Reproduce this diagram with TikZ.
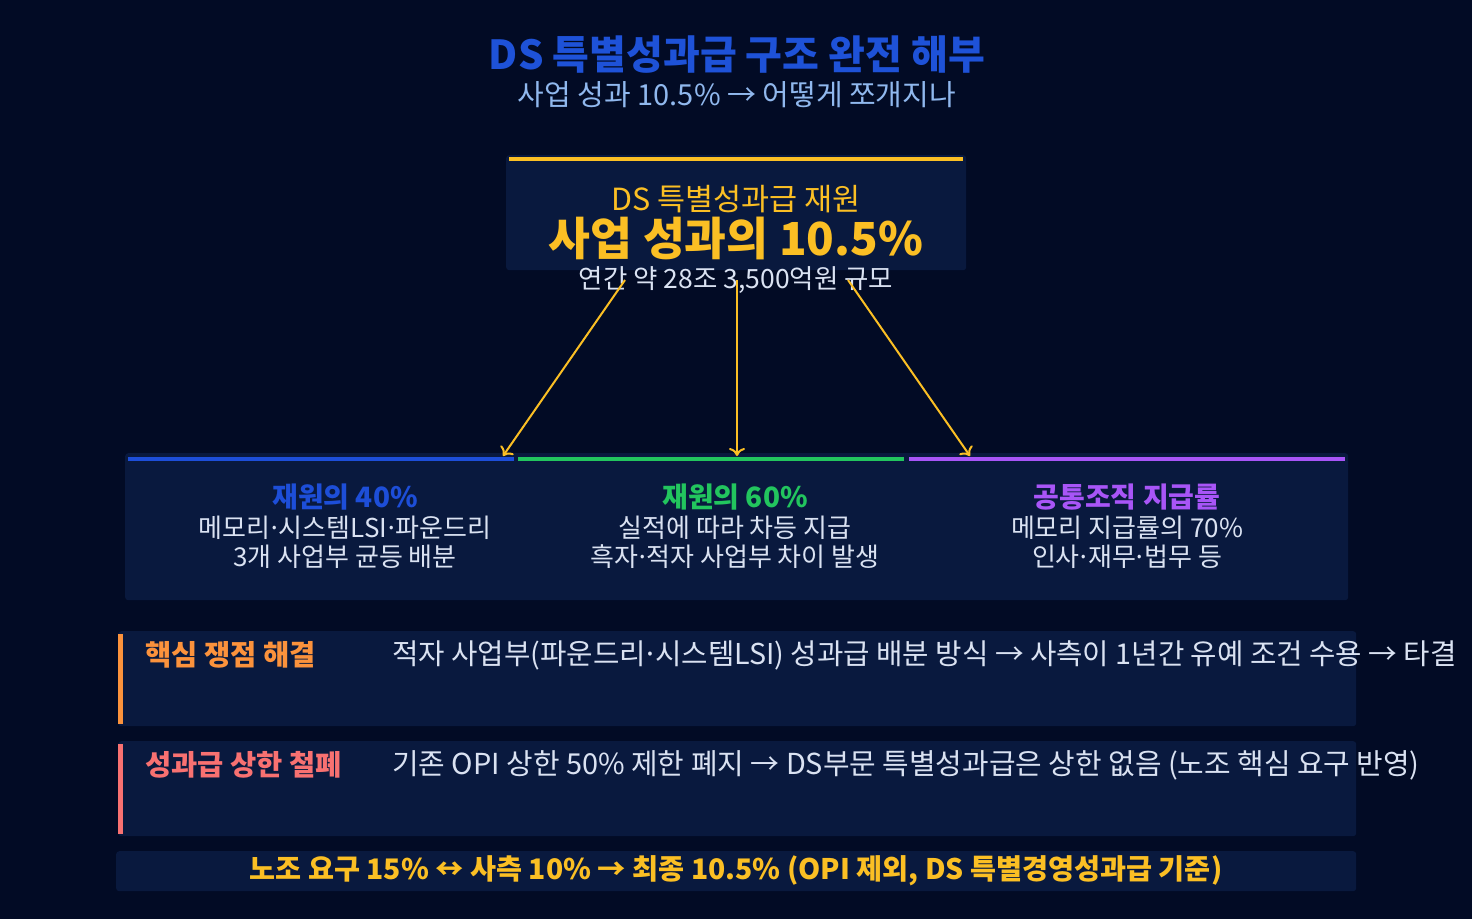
\documentclass[tikz,border=0pt]{standalone}
\usepackage{fontspec}
\setmainfont{Noto Sans CJK KR}
\usetikzlibrary{arrows.meta}

\definecolor{bgnavy}{RGB}{2,11,37}
\definecolor{boxnavy}{RGB}{9,25,62}
\definecolor{titleblue}{RGB}{30,82,216}
\definecolor{subblue}{RGB}{144,184,238}
\definecolor{amber}{RGB}{251,191,36}
\definecolor{bodygray}{RGB}{218,226,242}
\definecolor{barblue}{RGB}{29,78,216}
\definecolor{bargreen}{RGB}{34,197,94}
\definecolor{barpurple}{RGB}{168,85,247}
\definecolor{issueorange}{RGB}{251,146,60}
\definecolor{capred}{RGB}{248,113,113}

\newcommand{\setfs}[1]{\fontsize{#1}{#1}\selectfont}
\newcommand{\mdot}{\kern-.12em·\kern-.12em}

\tikzset{
  panel/.style={fill=boxnavy, rounded corners=3pt, inner sep=0pt, anchor=north west},
  txt/.style={inner sep=0pt, text=bodygray, font=\setfs{26}},
  head/.style={inner sep=0pt, font=\bfseries\setfs{28}},
  flow/.style={draw=amber, line width=2pt, -{To[length=8pt,width=16pt]}}
}

\begin{document}
\begin{tikzpicture}[x=1pt,y=-1pt]
\fill[bgnavy] (0,0) rectangle (1472,919);
\useasboundingbox (0,0) rectangle (1472,919);

\node[inner sep=0pt, text=titleblue, font=\bfseries\setfs{40}] (title) at (737,55) {DS 특별성과급 구조 완전 해부};
\node[inner sep=0pt, text=subblue, font=\setfs{29}] (subtitle) at (737,95) {사업 성과 10.5\% → 어떻게 쪼개지나};

\node[panel, minimum width=460pt, minimum height=115pt] (source) at (506,155) {};
\fill[amber] (509,157) rectangle (963,161);
\node[inner sep=0pt, text=amber, font=\setfs{30.5}] (sourcehead) at (736,199) {DS 특별성과급 재원};
\node[inner sep=0pt, text=amber, font=\bfseries\setfs{45.5}] (sourcerate) at (736,238) {사업 성과의 10.5\%};
\node[txt, font=\setfs{26.5}] (sourcesize) at (736,280) {연간 약 28조 3,500억원 규모};

\node[panel, minimum width=1223pt, minimum height=147pt] (split) at (125,453) {};
\fill[barblue] (128,457) rectangle (514,461);
\fill[bargreen] (518,457) rectangle (904,461);
\fill[barpurple] (909,457) rectangle (1345,461);

\node[head, text=barblue] (memhead) at (345,497) {재원의 40\%};
\node[txt] (memline1) at (345,528) {메모리\mdot 시스템LSI\mdot 파운드리};
\node[txt] (memline2) at (345,557) {3개 사업부 균등 배분};

\node[head, text=bargreen] (perfhead) at (735,497) {재원의 60\%};
\node[txt] (perfline1) at (735,528) {실적에 따라 차등 지급};
\node[txt] (perfline2) at (735,557) {흑자\mdot 적자 사업부 차이 발생};

\node[head, text=barpurple] (commonhead) at (1127,497) {공통조직 지급률};
\node[txt] (commonline1) at (1127,528) {메모리 지급률의 70\%};
\node[txt] (commonline2) at (1127,557) {인사\mdot 재무\mdot 법무 등};

\coordinate (from1) at (625,280);
\coordinate (from2) at (737,280);
\coordinate (from3) at (848,280);
\coordinate (to1) at (503,456);
\coordinate (to2) at (737,456);
\coordinate (to3) at (970,456);
\draw[flow] (from1) -- (to1);
\draw[flow] (from2) -- (to2);
\draw[flow] (from3) -- (to3);

\node[panel, minimum width=1238pt, minimum height=95pt] (issue) at (118,631) {};
\fill[issueorange] (118,634) rectangle (123,724);
\node[head, anchor=west, text=issueorange, font=\bfseries\setfs{28.5}] (issuehead) at (145,655) {핵심 쟁점 해결};
\node[txt, anchor=west, font=\setfs{28.7}] (issuetext) at (392,655) {적자 사업부(파운드리\mdot 시스템LSI) 성과급 배분 방식 → 사측이 1년간 유예 조건 수용 → 타결};

\node[panel, minimum width=1238pt, minimum height=95pt] (cap) at (118,741) {};
\fill[capred] (118,744) rectangle (123,834);
\node[head, anchor=west, text=capred, font=\bfseries\setfs{28.5}] (caphead) at (145,765) {성과급 상한 철폐};
\node[txt, anchor=west, font=\setfs{28.9}] (captext) at (392,765) {기존 OPI 상한 50\% 제한 폐지 → DS부문 특별성과급은 상한 없음 (노조 핵심 요구 반영)};

\node[panel, minimum width=1240pt, minimum height=40pt] (result) at (116,851) {};
\node[head, text=amber, font=\bfseries\setfs{28.3}] (resulttext) at (736,871) {노조 요구 15\% ↔ 사측 10\% → 최종 10.5\% (OPI 제외, DS 특별경영성과급 기준)};
\end{tikzpicture}
\end{document}
